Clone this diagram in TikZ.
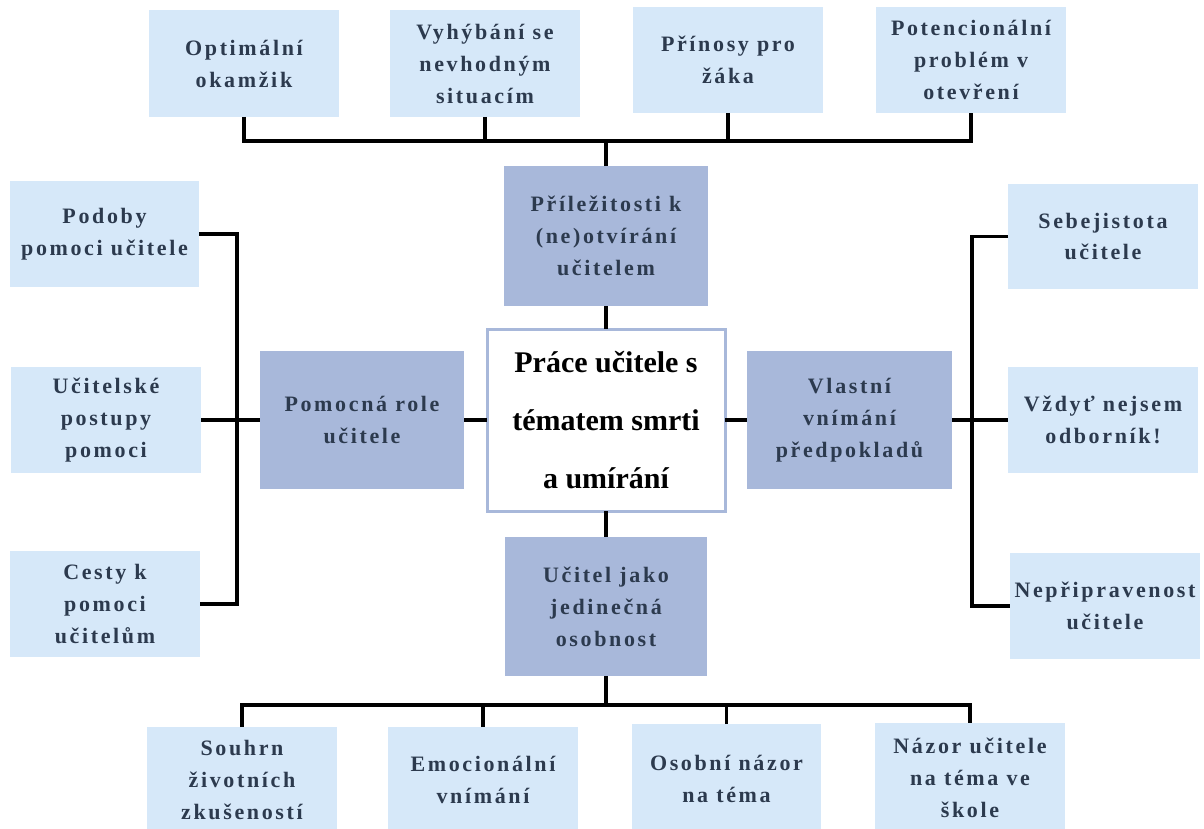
\documentclass[tikz,border=0pt]{standalone}
\usepackage{fontspec}
\setmainfont{Liberation Serif}
\newfontfamily\spaced[LetterSpace=12]{Liberation Serif}
\definecolor{lightbox}{HTML}{D6E8F9}
\definecolor{darkbox}{HTML}{A8B8DA}
\definecolor{txt}{HTML}{2C3A4E}
\newcommand\bx[7]{\node[#6, minimum width={(#4-#2)*0.5pt}, minimum height={(#5-#3)*0.5pt}] (#1) at ({(#2+#4)/2},{(#3+#5)/2}) {#7};}
\tikzset{
  base/.style={inner sep=0pt, outer sep=0pt, align=center, text=txt,
    font=\spaced\bfseries\fontsize{11}{16}\selectfont},
  leaf/.style={base, fill=lightbox},
  mid/.style={base, fill=darkbox},
  core/.style={inner sep=0pt, outer sep=0pt, align=center, fill=white, draw=darkbox, line width=1.5pt,
    text=black, font=\bfseries\fontsize{15}{29}\selectfont},
  conn/.style={line width=1.7pt, black, line join=miter}
}
\begin{document}
\begin{tikzpicture}[x=0.5pt, y=-0.5pt]
\useasboundingbox (0,0) rectangle (1204,829);
% top leaves
\bx{o1}{149}{10}{339}{117}{leaf}{Optimální\\okamžik}
\bx{o2}{390}{10}{580}{117}{leaf}{Vyhýbání se\\nevhodným\\situacím}
\bx{o3}{633}{7}{823}{113}{leaf}{Přínosy pro\\žáka}
\bx{o4}{876}{7}{1066}{113}{leaf}{Potencionální\\problém v\\otevření}
% left leaves
\bx{l1}{10}{181}{199}{287}{leaf}{Podoby\\pomoci učitele}
\bx{l2}{11}{367}{201}{473}{leaf}{Učitelské\\postupy\\pomoci}
\bx{l3}{10}{551}{200}{657}{leaf}{Cesty k\\pomoci\\učitelům}
% right leaves
\bx{r1}{1008}{184}{1198}{289}{leaf}{Sebejistota\\učitele}
\bx{r2}{1008}{367}{1198}{473}{leaf}{Vždyť nejsem\\odborník!}
\bx{r3}{1010}{553}{1200}{659}{leaf}{Nepřipravenost\\učitele}
% bottom leaves
\bx{b1}{147}{727}{337}{833}{leaf}{Souhrn\\životních\\zkušeností}
\bx{b2}{388}{727}{578}{833}{leaf}{Emocionální\\vnímání}
\bx{b3}{632}{724}{821}{833}{leaf}{Osobní názor\\na téma}
\bx{b4}{875}{723}{1065}{833}{leaf}{Názor učitele\\na téma ve\\škole}
% middle categories
\bx{p}{504}{166}{708}{306}{mid}{Příležitosti k\\(ne)otvírání\\učitelem}
\bx{pom}{260}{351}{464}{489}{mid}{Pomocná role\\učitele}
\bx{vl}{747}{351}{952}{489}{mid}{Vlastní\\vnímání\\předpokladů}
\bx{u}{505}{537}{707}{676}{mid}{Učitel jako\\jedinečná\\osobnost}
% core
\bx{c}{487}{329}{725}{511}{core}{Práce učitele s\\tématem smrti\\a umírání}
% buses
\coordinate (tb) at (606,141);
\coordinate (bb) at (606,705);
\coordinate (lb) at (237,420);
\coordinate (rb) at (972,420);
% top connectors
\draw[conn] (o1.south) -- (o1.south |- tb) -- (o4.south |- tb) -- (o4.south);
\draw[conn] (o2.south) -- (o2.south |- tb);
\draw[conn] (o3.south) -- (o3.south |- tb);
\draw[conn] (p.north) -- (p.north |- tb);
\draw[conn] (p.south) -- (c.north);
% left connectors
\draw[conn] (l1.east) -- (l1.east -| lb) -- (l3.east -| lb) -- (l3.east);
\draw[conn] (l2.east) -- (pom.west);
\draw[conn] (pom.east) -- (c.west);
% right connectors
\draw[conn] (r1.west) -- (r1.west -| rb) -- (r3.west -| rb) -- (r3.west);
\draw[conn] (vl.east) -- (r2.west);
\draw[conn] (c.east) -- (vl.west);
% bottom connectors
\draw[conn] (c.south) -- (u.north);
\draw[conn] (u.south) -- (u.south |- bb);
\draw[conn] (b1.north) -- (b1.north |- bb) -- (b4.north |- bb) -- (b4.north);
\draw[conn] (b2.north) -- (b2.north |- bb);
\draw[conn] (b3.north) -- (b3.north |- bb);
\end{tikzpicture}
\end{document}
